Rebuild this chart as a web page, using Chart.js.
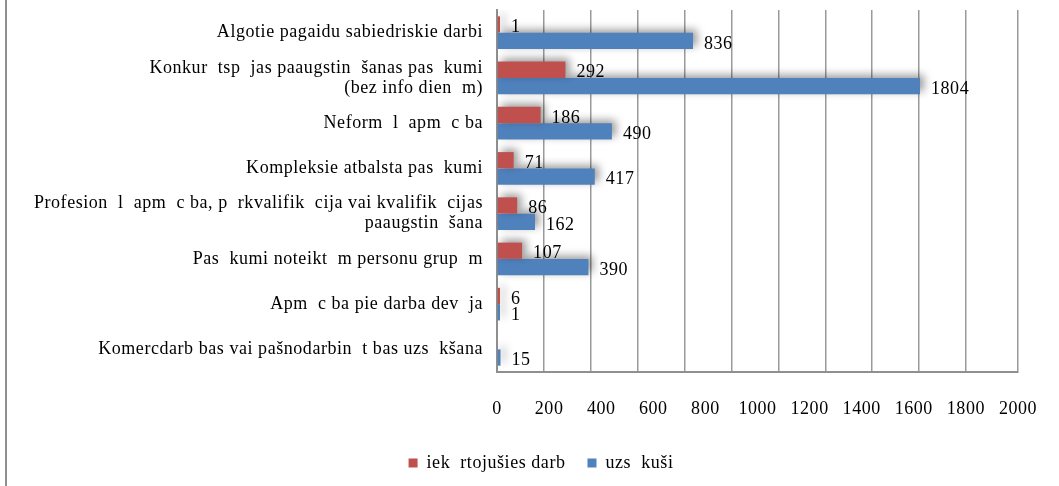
<!DOCTYPE html>
<html>
<head>
<meta charset="utf-8">
<script src="https://cdn.jsdelivr.net/npm/chart.js@4/dist/chart.umd.min.js"></script>
<style>
html,body{margin:0;padding:0;background:#fff;}
#wrap{width:1059px;height:486px;position:relative;}
</style>
</head>
<body>
<div id="wrap"><canvas id="c" width="1059" height="486"></canvas></div>
<script>
const categories = [
  "Algotie pagaidu sabiedriskie darbi",
  ["Konkur  tsp  jas paaugstin  šanas pas  kumi", "(bez info dien  m)"],
  "Neform  l  apm  c ba",
  "Kompleksie atbalsta pas  kumi",
  ["Profesion  l  apm  c ba, p  rkvalifik  cija vai kvalifik  cijas", "paaugstin  šana"],
  "Pas  kumi noteikt  m personu grup  m",
  "Apm  c ba pie darba dev  ja",
  "Komercdarb bas vai pašnodarbin  t bas uzs  kšana"
];
const seriesNames = ["iek  rtojušies darb", "uzs  kuši"];
const employed = [1, 292, 186, 71, 86, 107, 6, null];
const started = [836, 1804, 490, 417, 162, 390, 1, 15];
const tickValues = [0, 200, 400, 600, 800, 1000, 1200, 1400, 1600, 1800, 2000];

const FONT = "'Liberation Serif', 'Times New Roman', serif";
const FS = 18;
const LS = '0.55px';

const decor = {
  id: 'decor',
  beforeUpdate(chart) { chart.ctx.letterSpacing = LS; },
  beforeDraw(chart) {
    const ctx = chart.ctx;
    ctx.letterSpacing = LS;
    ctx.save();
    ctx.strokeStyle = '#8f8f8f';
    ctx.lineWidth = 2;
    ctx.beginPath();
    ctx.moveTo(6, 0);
    ctx.lineTo(6, 486);
    ctx.stroke();
    ctx.restore();
  },
  beforeDatasetDraw(chart) {
    const ctx = chart.ctx;
    ctx.shadowColor = 'rgba(0,0,0,0.4)';
    ctx.shadowBlur = 8;
    ctx.shadowOffsetX = 4;
    ctx.shadowOffsetY = -3;
  },
  afterDatasetsDraw(chart) {
    const ctx = chart.ctx;
    ctx.save();
    ctx.shadowColor = 'transparent';
    ctx.font = FS + 'px ' + FONT;
    ctx.fillStyle = '#000';
    ctx.textAlign = 'left';
    ctx.textBaseline = 'middle';
    chart.data.datasets.forEach((ds, i) => {
      const meta = chart.getDatasetMeta(i);
      meta.data.forEach((bar, j) => {
        const v = ds.data[j];
        if (v === null || v === undefined) return;
        ctx.fillText(String(v), bar.x + 11, bar.y + 3);
      });
    });
    ctx.restore();
  }
};

new Chart(document.getElementById('c'), {
  type: 'bar',
  data: {
    labels: categories,
    datasets: [
      { label: seriesNames[0], data: employed, backgroundColor: '#C0504D', minBarLength: 3 },
      { label: seriesNames[1], data: started, backgroundColor: '#4F81BD', minBarLength: 3 }
    ]
  },
  options: {
    indexAxis: 'y',
    responsive: false,
    animation: false,
    devicePixelRatio: 1,
    categoryPercentage: 0.72,
    barPercentage: 1.0,
    layout: { padding: { top: 10, left: 24, right: 1, bottom: 4 } },
    plugins: {
      tooltip: { enabled: false },
      legend: {
        position: 'bottom',
        labels: {
          boxWidth: 9, boxHeight: 9, padding: 22,
          color: '#000',
          font: { family: FONT, size: FS }
        }
      }
    },
    scales: {
      y: {
        grid: { display: false, drawTicks: false },
        border: { display: true, color: '#8f8f8f', width: 2 },
        ticks: { color: '#000', font: { family: FONT, size: FS, lineHeight: 1.1 }, padding: 14, autoSkip: false },
        afterFit(s) { s.width = 473; s.paddingTop = 0; s.paddingBottom = 0; }
      },
      x: {
        type: 'linear',
        min: 0,
        max: 2222,
        grid: { display: true, color: '#9a9a9a', lineWidth: 1.5, drawTicks: false },
        border: { display: true, color: '#8f8f8f', width: 2 },
        ticks: { display: false, stepSize: 200 },
        afterBuildTicks(s) {
          s.ticks = tickValues.map(v => ({ value: v })).concat([{ value: s.max }]);
        },
        afterFit(s) { s.paddingLeft = 0; s.paddingRight = 41; }
      },
      x2: {
        type: 'linear',
        position: 'bottom',
        min: 0,
        max: 2000,
        grid: { display: false, drawTicks: false },
        border: { display: false },
        ticks: { color: '#000', font: { family: FONT, size: FS }, padding: 26, stepSize: 200,
                 callback: v => String(v) },
        afterBuildTicks(s) { s.ticks = tickValues.map(v => ({ value: v })); },
        afterFit(s) { s.height = 60; s.paddingLeft = 0; s.paddingRight = 41; }
      }
    }
  },
  plugins: [decor]
});
</script>
</body>
</html>
